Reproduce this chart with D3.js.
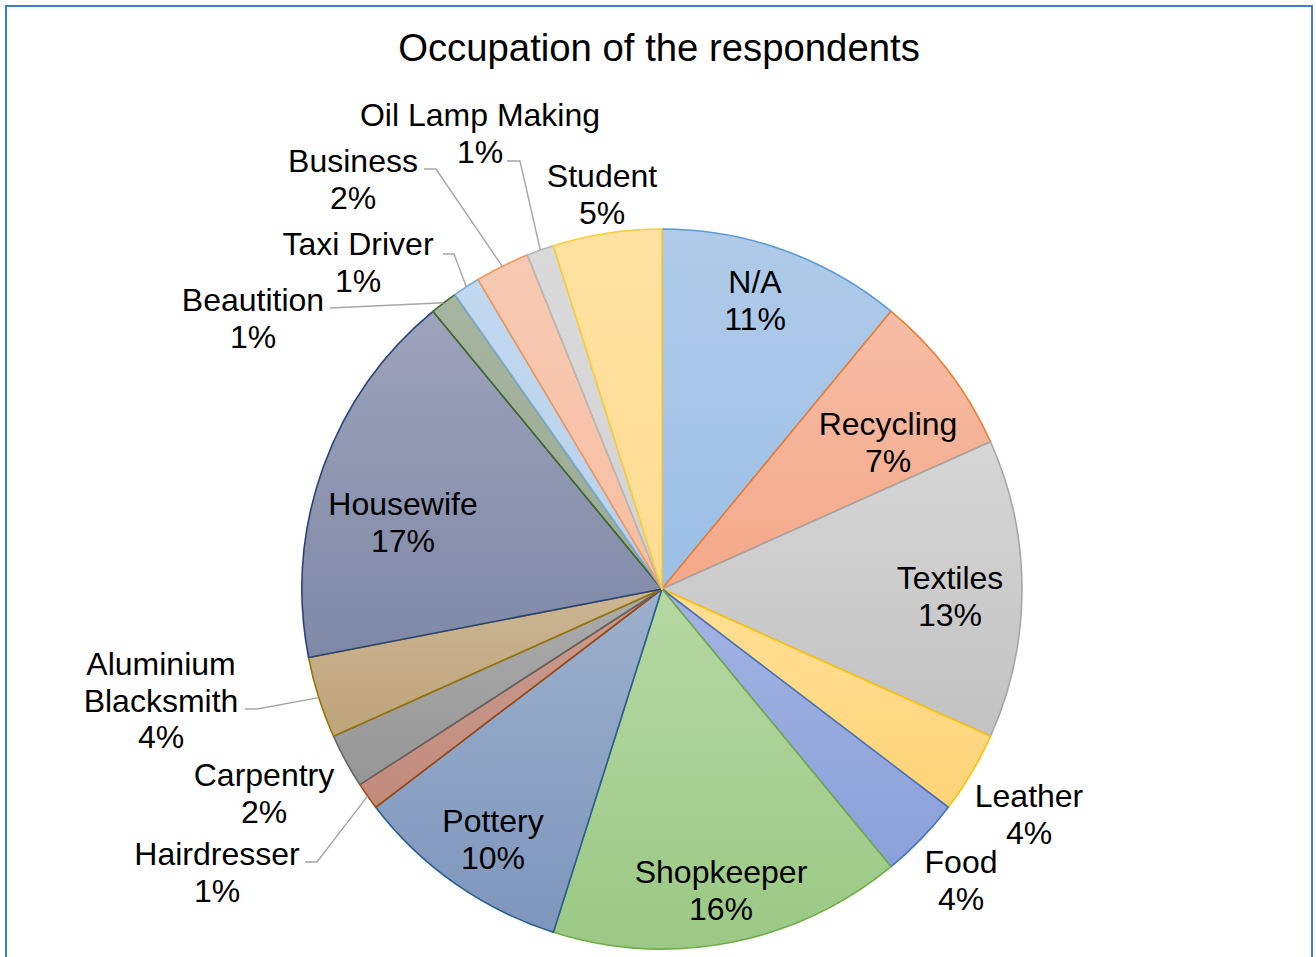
<!DOCTYPE html>
<html>
<head>
<meta charset="utf-8">
<script src="https://cdn.jsdelivr.net/npm/d3@7"></script>
<style>
  html, body { margin: 0; padding: 0; background: #ffffff; }
  svg { display: block; }
  text { font-family: "Liberation Sans", Arial, sans-serif; fill: #000000; }
</style>
</head>
<body>
<svg id="chart" width="1316" height="957"></svg>
<script>
// Occupation categories, clockwise from 12 o'clock
const categories = [
  "N/A", "Recycling", "Textiles", "Leather", "Food", "Shopkeeper", "Pottery",
  "Hairdresser", "Carpentry", "Aluminium\nBlacksmith", "Housewife", "Beautition",
  "Taxi Driver", "Business", "Oil Lamp Making", "Student"
];
// Number of respondents in each occupation
const counts = [9, 6, 11, 3, 3, 13, 8, 1, 2, 3, 14, 1, 1, 2, 1, 4];

// Slice outline colours
const outlineColors = [
  "#5b9bd5", "#ed7d31", "#a5a5a5", "#ffc000", "#4472c4", "#70ad47", "#255e91",
  "#9e480e", "#636363", "#997300", "#264478", "#43682b",
  "#7cafdd", "#f1975a", "#b7b7b7", "#ffcd33"
];
// Slice fill gradient: colour at the top and at the bottom of each slice
const fillTop = [
  "#b0cbe9", "#f6bda5", "#d6d6d6", "#ffdf95", "#a3b3e2", "#b6d7a3", "#9db0cc",
  "#c99c90", "#acacac", "#cbb594", "#9ca3ba", "#a6b5a0",
  "#c2d8ef", "#f8cab3", "#dadada", "#ffe2a2"
];
const fillBottom = [
  "#9bbfe6", "#f4a889", "#c2c2c2", "#ffd478", "#8aa1d9", "#9bc985", "#7e96bd",
  "#c28b7c", "#969696", "#bea47a", "#7f88a6", "#9cab94",
  "#b8d1ec", "#f6bea2", "#d3d3d3", "#ffdc92"
];

// Label placement: baseline of the first line, plus optional leader elbow
const labelLayout = {
  "N/A":                   { x: 755,  y: 293 },
  "Recycling":             { x: 888,  y: 435 },
  "Textiles":              { x: 950,  y: 589 },
  "Leather":               { x: 1029, y: 807 },
  "Food":                  { x: 961,  y: 873 },
  "Shopkeeper":            { x: 721,  y: 883 },
  "Pottery":               { x: 493,  y: 832 },
  "Hairdresser":           { x: 217,  y: 865, leader: [[305, 862], [317, 862]] },
  "Carpentry":             { x: 264,  y: 786 },
  "Aluminium\nBlacksmith": { x: 161,  y: 675, leader: [[245, 709], [257, 709]] },
  "Housewife":             { x: 403,  y: 515 },
  "Beautition":            { x: 253,  y: 311, leader: [[330, 308]] },
  "Taxi Driver":           { x: 358,  y: 255, leader: [[443, 254], [454, 254]] },
  "Business":              { x: 353,  y: 172, leader: [[424, 169], [436, 169]] },
  "Oil Lamp Making":       { x: 480,  y: 126, leader: [[507, 161], [520, 161]] },
  "Student":               { x: 602,  y: 187 }
};

const cx = 662, cy = 589, R = 360;
const lineGap = 36.5;

const svg = d3.select("#chart");

// Chart frame
svg.append("rect")
  .attr("x", 6).attr("y", 6)
  .attr("width", 1306).attr("height", 960)
  .attr("fill", "#ffffff")
  .attr("stroke", "#3d7fcc")
  .attr("stroke-width", 2);

// Title
svg.append("text")
  .attr("x", 659).attr("y", 61)
  .attr("text-anchor", "middle")
  .style("font-size", "38.3px")
  .text("Occupation of the respondents");

const data = categories.map((c, i) => ({ name: c, value: counts[i], color: outlineColors[i] }));
const total = d3.sum(counts);

// Vertical gradients for each slice
const defs = svg.append("defs");
data.forEach((d, i) => {
  const g = defs.append("linearGradient")
    .attr("id", "grad" + i)
    .attr("x1", 0).attr("y1", 0).attr("x2", 0).attr("y2", 1);
  g.append("stop").attr("offset", "0%").attr("stop-color", fillTop[i]);
  g.append("stop").attr("offset", "100%").attr("stop-color", fillBottom[i]);
});

const pie = d3.pie().value(d => d.value).sort(null);
const arcs = pie(data);
const arc = d3.arc().innerRadius(0).outerRadius(R);

const g = svg.append("g").attr("transform", `translate(${cx},${cy})`);

g.selectAll("path.slice")
  .data(arcs)
  .join("path")
  .attr("class", "slice")
  .attr("d", arc)
  .attr("fill", (d, i) => `url(#grad${i})`)
  .attr("stroke", d => d.data.color)
  .attr("stroke-width", 1.6)
  .attr("stroke-linejoin", "round");

// Leader lines for the labels placed outside the pie
const line = d3.line();
arcs.forEach(a => {
  const lay = labelLayout[a.data.name];
  if (!lay.leader) return;
  const mid = (a.startAngle + a.endAngle) / 2;
  const edge = [cx + R * Math.sin(mid), cy - R * Math.cos(mid)];
  svg.append("path")
    .attr("d", line([...lay.leader, edge]))
    .attr("fill", "none")
    .attr("stroke", "#a6a6a6")
    .attr("stroke-width", 1.4);
});

// Category and percentage labels
arcs.forEach(a => {
  const lay = labelLayout[a.data.name];
  const pct = Math.round(a.data.value / total * 100) + "%";
  const lines = a.data.name.split("\n").concat([pct]);
  const t = svg.append("text")
    .attr("text-anchor", "middle")
    .style("font-size", "32px");
  lines.forEach((s, k) => {
    t.append("tspan")
      .attr("x", lay.x)
      .attr("y", lay.y + k * lineGap)
      .text(s);
  });
});
</script>
</body>
</html>
